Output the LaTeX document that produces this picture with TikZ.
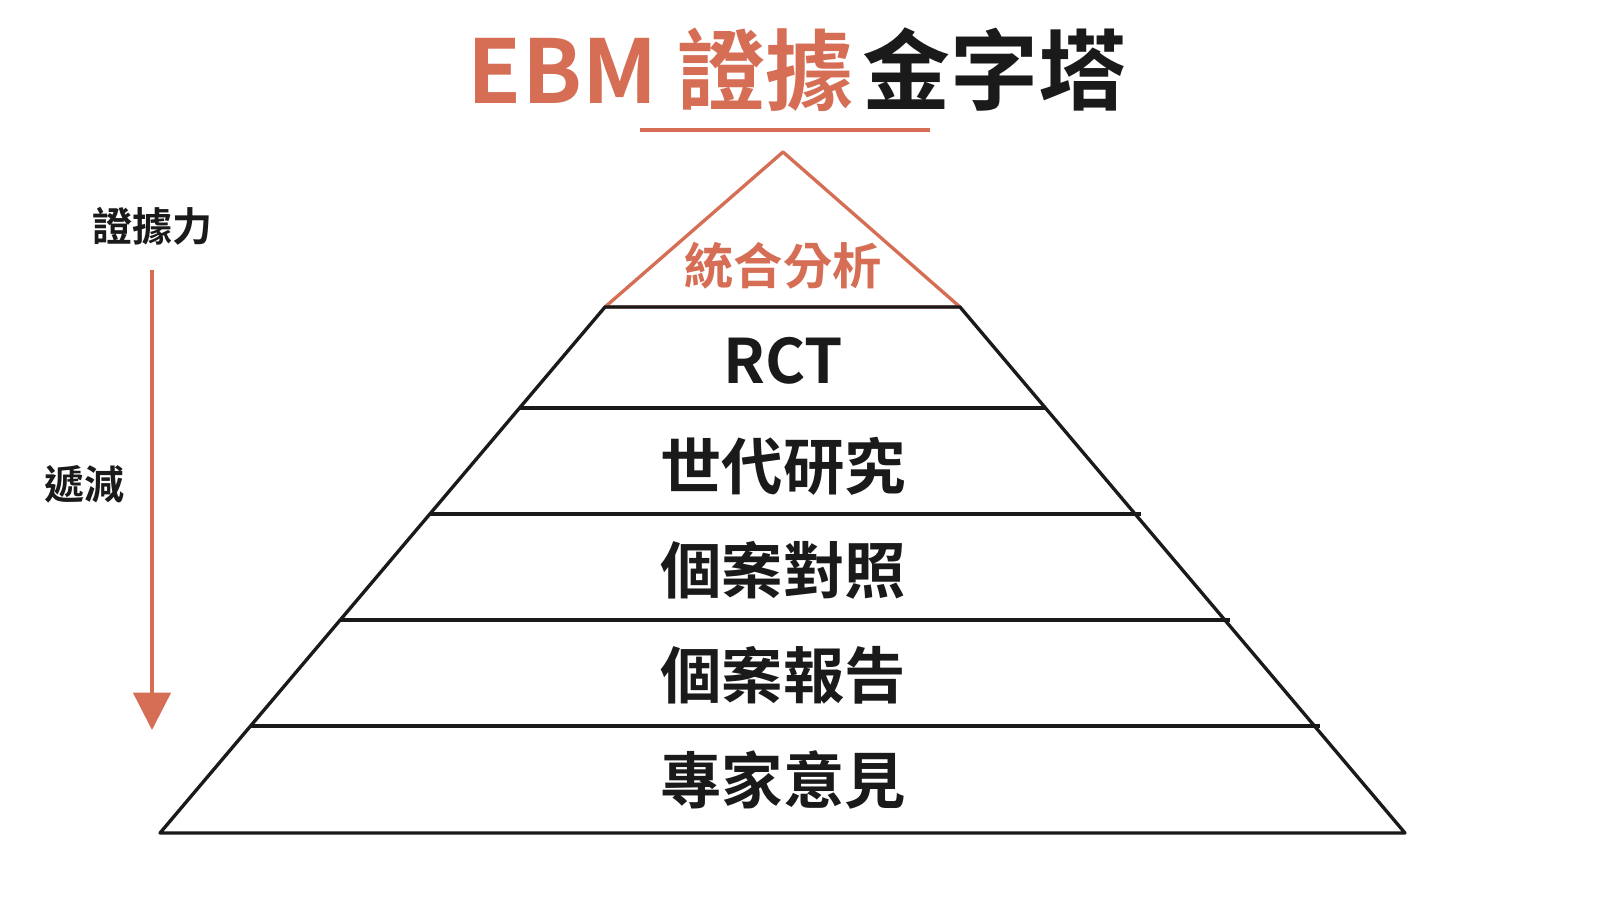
\documentclass[tikz,border=0pt]{standalone}
\usepackage{fontspec}
\setmainfont{Noto Sans CJK TC}[BoldFont=* Bold]
\usetikzlibrary{arrows.meta}
\definecolor{ebmorange}{RGB}{214,110,85}
\definecolor{ebmdark}{RGB}{26,26,26}
\tikzset{every picture/.style={line width=0.75pt}}
\tikzset{tier/.style={font=\fontsize{46}{46}\selectfont\bfseries,text=ebmdark}}

\begin{document}
\begin{tikzpicture}[x=0.75pt,y=0.75pt,yscale=-1,xscale=1]
	\useasboundingbox[fill=white] (0,0) rectangle (1600,900);

	% Title
	\node[anchor=base east,font=\fontsize{66}{66}\selectfont\bfseries,text=ebmorange] (ttl) at (858,103) {EBM 證據};
	\node[anchor=base west,font=\fontsize{66}{66}\selectfont\bfseries,text=ebmdark] (ttr) at (858,103) {金字塔};
	\draw[ebmorange,line width=3pt] (640,130) -- (930,130);

	% Shape: top triangle
	\draw[ebmorange,line width=2.5pt,line join=round] (783,152) -- (960,307) -- (605,307) -- cycle;
	% Shape: trapezoid
	\draw[ebmdark,line width=2.5pt,line join=round] (605,307) -- (960,307) -- (1405,833) -- (160,833) -- cycle;
	% Tier lines
	\foreach \y/\l/\r in {408/519/1045,514/430/1141,620/340/1230,726/250/1320}
		\draw[ebmdark,line width=2.5pt] (\l,\y) -- (\r,\y);

	% Text Node
	\node[font=\fontsize{37}{37}\selectfont\bfseries,text=ebmorange] (meta) at (783,266) {統合分析};
	\node[tier] (rct) at (783,361) {RCT};
	\node[tier] (cohort) at (783,466) {世代研究};
	\node[tier] (casectl) at (783,570) {個案對照};
	\node[tier] (caserep) at (783,675) {個案報告};
	\node[tier] (expert) at (783,780) {專家意見};

	% Side arrow
	\node[font=\fontsize{30}{30}\selectfont\bfseries,text=ebmdark] (pow) at (152,226) {證據力};
	\node[font=\fontsize{30}{30}\selectfont\bfseries,text=ebmdark] (dec) at (84,484) {遞減};
	\coordinate (arrtop) at (152,270);
	\coordinate (arrend) at (152,730);
	\draw[ebmorange,line width=2.5pt,-{Triangle[width=28pt,length=28pt]}] (arrtop) -- (arrend);
\end{tikzpicture}
\end{document}
